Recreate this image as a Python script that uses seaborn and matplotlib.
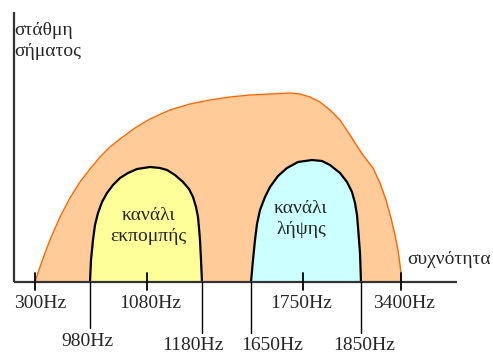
import matplotlib
matplotlib.use("Agg")
import matplotlib.pyplot as plt
import seaborn as sns
import pandas as pd

# ---------------- data (schematic positions along the frequency axis) ----------------
# voice-band envelope (x position, level above axis)
band_x = [35, 40, 45, 50, 60, 70, 80, 90, 100, 110, 120, 135, 150, 170, 190, 210,
          230, 250, 270, 290, 300, 310, 320, 330, 340, 350, 357, 363, 373, 380, 386,
          391, 395, 398, 400, 401, 401]
band_y = [0, 15, 29, 42, 65, 84, 100, 113, 125, 135, 143, 154, 163, 172, 178, 182,
          185, 187, 188, 189, 188, 185, 180, 172, 162, 147, 136, 127, 114, 99, 82,
          64, 47, 32, 17, 9, 0]

# transmit channel
tx_x = [90, 91, 93, 95, 98, 102, 107, 113, 120, 128, 137, 150, 160, 167, 175, 183, 189,
        193, 196, 198, 199, 200, 201, 202]
tx_y = [0, 22, 42, 57, 69, 80, 89, 97, 104, 109, 113, 115, 114, 112, 107, 100, 93,
        85, 75, 65, 54, 42, 22, 0]

# receive channel
rx_x = [251, 253, 255, 257, 260, 265, 270, 278, 287, 298, 312, 322, 330, 340, 347, 352,
        355, 357, 358, 360, 361]
rx_y = [0, 22, 42, 58, 72, 85, 95, 106, 114, 120, 122, 121, 117, 109, 100, 90,
        79, 67, 55, 29, 0]

# tick marks and labels
short_tick_x = [35, 147, 303, 401]
short_tick_labels = ["300Hz", "1080Hz", "1750Hz", "3400Hz"]
long_tick_x = [90, 202, 251, 361]
long_tick_labels = ["980Hz", "1180Hz", "1650Hz", "1850Hz"]

y_label = "στάθμη\nσήματος"
x_label = "συχνότητα"
tx_label = "κανάλι\nεκπομπής"
rx_label = "κανάλι\nλήψης"

# ---------------- drawing ----------------
sns.set_theme(style="white")
FAM = "Liberation Serif"
plt.rcParams["font.family"] = FAM

fig = plt.figure(figsize=(4.93, 3.55), dpi=100)
ax = fig.add_axes([0, 0, 1, 1])
ax.set_xlim(0, 493)
ax.set_ylim(-73, 282)
ax.axis("off")

band = pd.DataFrame({"x": band_x, "y": band_y})
tx = pd.DataFrame({"x": tx_x, "y": tx_y})
rx = pd.DataFrame({"x": rx_x, "y": rx_y})

# envelope
ax.fill_between(band["x"], 0, band["y"], color="#FFCC99", lw=0, zorder=1)
sns.lineplot(data=band, x="x", y="y", ax=ax, color="#FF6600", lw=1.0,
             sort=False, estimator=None, zorder=2)

# channels
ax.fill_between(tx["x"], 0, tx["y"], color="#FFFF99", lw=0, zorder=3)
sns.lineplot(data=tx, x="x", y="y", ax=ax, color="black", lw=1.6,
             sort=False, estimator=None, zorder=4)
ax.fill_between(rx["x"], 0, rx["y"], color="#CCFFFF", lw=0, zorder=3)
sns.lineplot(data=rx, x="x", y="y", ax=ax, color="black", lw=1.6,
             sort=False, estimator=None, zorder=4)

# axes
ax.plot([14, 14], [0, 270], color="#333333", lw=1.6, zorder=5, solid_capstyle="butt")
ax.plot([14, 457], [0, 0], color="#333333", lw=1.6, zorder=5, solid_capstyle="butt")

# short ticks
for x in short_tick_x:
    ax.plot([x, x], [-8, 9], color="black", lw=1.3, zorder=6)
# long ticks
long_bottoms = [-46, -51, -51, -51]
for x, b in zip(long_tick_x, long_bottoms):
    ax.plot([x, x], [0, b], color="black", lw=1.0, zorder=6)

fs_num = 14
fs_gr = 14
short_lbl_x = [40, 150, 301, 404]
for x, lbl in zip(short_lbl_x, short_tick_labels):
    ax.text(x, -22, lbl, ha="center", va="center", fontsize=fs_num, family=FAM)
long_lbl_x = [87, 193, 272, 364]
long_lbl_y = [-59, -64, -64, -64]
for x, y, lbl in zip(long_lbl_x, long_lbl_y, long_tick_labels):
    ax.text(x, y, lbl, ha="center", va="center", fontsize=fs_num, family=FAM)

ax.text(14, 241, y_label, ha="left", va="center", fontsize=fs_gr, linespacing=1.35, family=FAM)
ax.text(449, 22, x_label, ha="center", va="center", fontsize=fs_gr, family=FAM)
ax.text(148, 56, tx_label, ha="center", va="center", fontsize=fs_gr, linespacing=1.35,
        family=FAM, zorder=7)
ax.text(301, 63, rx_label, ha="center", va="center", fontsize=fs_gr, linespacing=1.35,
        family=FAM, zorder=7)

fig.savefig("out.png", dpi=100)
